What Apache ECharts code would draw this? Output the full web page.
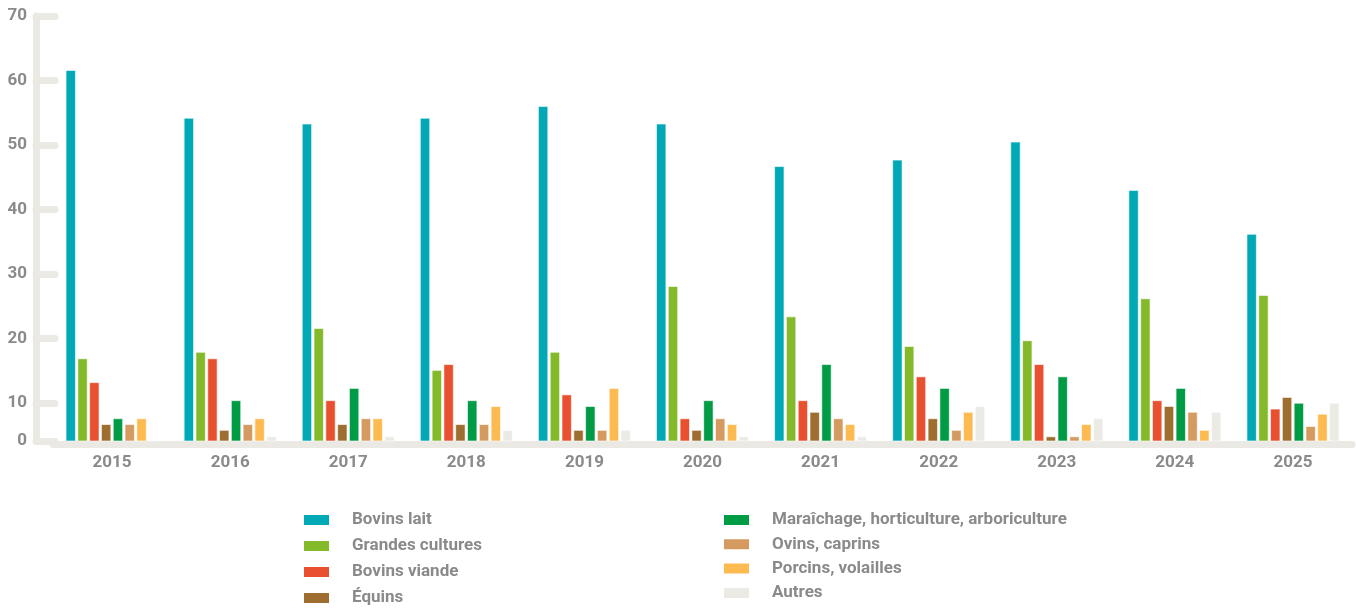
<!DOCTYPE html>
<html>
<head>
<meta charset="utf-8">
<script src="https://cdn.jsdelivr.net/npm/echarts@6/dist/echarts.min.js"></script>
<style>
html,body{margin:0;padding:0;background:#fff;}
#chart{width:1356px;height:608px;}
</style>
</head>
<body>
<div id="chart"></div>
<script>
const years = ['2015','2016','2017','2018','2019','2020','2021','2022','2023','2024','2025'];
const seriesNames = ['Bovins lait','Grandes cultures','Bovins viande','Équins','Maraîchage, horticulture, arboriculture','Ovins, caprins','Porcins, volailles','Autres'];
const bovinsLait      = [61.6,54.2,53.3,54.2,56.0,53.3,46.7,47.7,50.5,43.0,36.2];
const grandesCultures = [16.9,17.9,21.6,15.1,17.9,28.1,23.4,18.8,19.7,26.2,26.7];
const bovinsViande    = [13.2,16.9,10.4,16.0,11.3,7.6,10.4,14.1,16.0,10.4,9.1];
const equins          = [6.7,5.8,6.7,6.7,5.8,5.8,8.6,7.6,4.8,9.5,10.9];
const maraichage      = [7.6,10.4,12.3,10.4,9.5,10.4,16.0,12.3,14.1,12.3,10.0];
const ovinsCaprins    = [6.7,6.7,7.6,6.7,5.8,7.6,7.6,5.8,4.8,8.6,6.4];
const porcinsVolailles= [7.6,7.6,7.6,9.5,12.3,6.7,6.7,8.6,6.7,5.8,8.3];
const autres          = [4.2,4.8,4.8,5.8,5.8,4.8,4.8,9.5,7.6,8.6,10.0];
const axisBase = 4.1;
const yTickValues = [4.1,10,20,30,40,50,60,70];
const yTickLabels = ['0','10','20','30','40','50','60','70'];

const colors = ['#00A9B5','#84BA2A','#E9502F','#9D6E2F','#009B45','#D49A60','#FDBA50','#EBEAE5'];
const allData = [bovinsLait,grandesCultures,bovinsViande,equins,maraichage,ovinsCaprins,porcinsVolailles,autres];
const FONT = "Roboto, sans-serif";
const GREY = '#8a8a8a';
const AXIS = '#EBE9E4';

const legendText = {fontFamily:FONT,fontWeight:'bold',fontSize:17,color:GREY,lineHeight:18,padding:[0,0,0,17]};
const chart = echarts.init(document.getElementById('chart'));
chart.setOption({
  animation:false,
  color:colors,
  grid:{left:53,right:4,top:16,bottom:167,containLabel:false},
  legend:[
    {data:seriesNames.slice(0,4),orient:'vertical',left:302,top:511,height:140,padding:0,itemWidth:27,itemHeight:12,itemGap:8,
     icon:'rect',selectedMode:false,textStyle:legendText},
    {data:seriesNames.slice(4),orient:'vertical',left:722,top:511,height:140,padding:0,itemWidth:27,itemHeight:12,itemGap:6.3,
     icon:'rect',selectedMode:false,textStyle:legendText}
  ],
  xAxis:{type:'category',data:years,offset:3,
    axisLine:{show:true,lineStyle:{color:AXIS,width:7,cap:'round'}},
    axisTick:{show:false},
    axisLabel:{fontFamily:FONT,fontWeight:'bold',fontSize:17,color:GREY,margin:10}},
  yAxis:{type:'value',min:axisBase,max:70,offset:17,
    axisLine:{show:true,lineStyle:{color:AXIS,width:7,cap:'round'}},
    axisTick:{show:true,inside:true,length:19,customValues:yTickValues,lineStyle:{color:AXIS,width:7,cap:'round'}},
    axisLabel:{customValues:yTickValues,fontFamily:FONT,fontWeight:'bold',fontSize:17,color:GREY,margin:9,
      formatter:function(v){const i=yTickValues.indexOf(v);return i>=0?yTickLabels[i]:'';}},
    splitLine:{show:false}},
  series:allData.map((d,i)=>({name:seriesNames[i],type:'bar',data:d,barWidth:10,barGap:'18%',
    itemStyle:{color:colors[i],borderColor:'#ffffff',borderWidth:0.6}}))
});
</script>
</body>
</html>
